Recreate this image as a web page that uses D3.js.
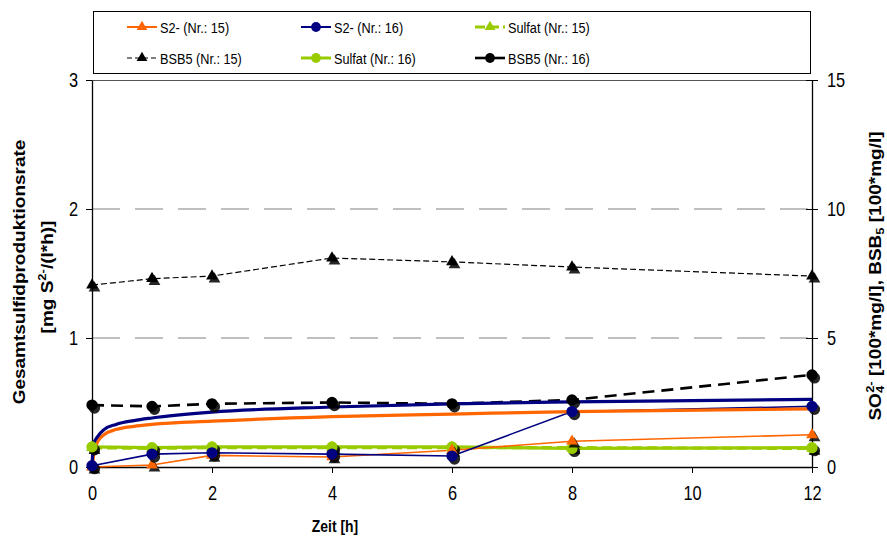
<!DOCTYPE html>
<html><head><meta charset="utf-8">
<script src="https://cdn.jsdelivr.net/npm/d3@7"></script>
<style>body{margin:0;background:#fff}svg{display:block;font-family:"Liberation Sans",Arial,sans-serif}</style>
</head><body><svg id="c" width="887" height="538"></svg>
<script>
const hours = [0, 1, 2, 4, 6, 8, 12];
const s2_15 = [0, 0.015, 0.09, 0.078, 0.13, 0.2, 0.25];
const s2_16 = [0.01, 0.1, 0.11, 0.1, 0.085, 0.43, 0.47];
const sulfat_15 = [0.75, 0.72, 0.75, 0.75, 0.75, 0.75, 0.72];
const sulfat_16 = [0.78, 0.75, 0.78, 0.78, 0.78, 0.72, 0.75];
const bsb_15 = [7.05, 7.3, 7.4, 8.1, 7.95, 7.75, 7.4];
const bsb_16 = [2.4, 2.35, 2.45, 2.5, 2.45, 2.6, 3.57];
const trendX = [0, 0.01, 0.03, 0.1, 0.2, 0.4, 0.7, 1, 2, 4, 6, 8, 12];
const trend_15 = [0, 0.03, 0.1, 0.2, 0.25, 0.29, 0.315, 0.33, 0.355, 0.39, 0.41, 0.43, 0.45];
const trend_16 = [0, 0.1, 0.18, 0.24, 0.29, 0.33, 0.36, 0.38, 0.425, 0.465, 0.49, 0.505, 0.525];
const xTicks = [0, 2, 4, 6, 8, 10, 12];
const leftTicks = [0, 1, 2, 3];
const rightTicks = [0, 5, 10, 15];
const gridTicks = [1, 2];

const ORANGE = "#FF6600", NAVY = "#000080", GREEN = "#99CC00", BLACK = "#000";
const SX = 0.82; // horizontal squeeze of glyphs in the reference
const svg = d3.select("#c");
const L = 92, R = 812, T = 80, B = 467;
const x = d3.scaleLinear().domain([0, 12]).range([L, R]);
const yL = d3.scaleLinear().domain([0, 3]).range([B, T]);
const yR = d3.scaleLinear().domain([0, 15]).range([B, T]);

// grid
svg.append("g").selectAll("line").data(gridTicks).join("line")
  .attr("x1", L).attr("x2", R).attr("y1", d => yL(d)).attr("y2", d => yL(d))
  .attr("stroke", "#808080").attr("stroke-width", 1).attr("stroke-dasharray", "28,15");
svg.append("line").attr("x1", L).attr("x2", R).attr("y1", T + 0.5).attr("y2", T + 0.5)
  .attr("stroke", "#555").attr("stroke-width", 1);

// axes
const fs = "20px";
const ax = svg.append("g").attr("transform", `translate(0,${B})`)
  .call(d3.axisBottom(x).tickValues(xTicks).tickSize(6).tickSizeOuter(0).tickPadding(13).tickFormat(d3.format("d")));
const al = svg.append("g").attr("transform", `translate(${L},0)`)
  .call(d3.axisLeft(yL).tickValues(leftTicks).tickSize(6).tickSizeOuter(0).tickPadding(8).tickFormat(d3.format("d")));
const ar = svg.append("g").attr("transform", `translate(${R},0)`)
  .call(d3.axisRight(yR).tickValues(rightTicks).tickSize(6).tickSizeOuter(0).tickPadding(9).tickFormat(d3.format("d")));
[ax, al, ar].forEach(g => {
  g.select(".domain").attr("stroke", "#000").attr("stroke-width", 1.3);
  g.selectAll(".tick line").attr("stroke", "#000");
  g.selectAll(".tick text").attr("font-size", fs).attr("fill", "#000").attr("font-family", '"Liberation Sans",Arial,sans-serif')
    .each(function () {
      const t = d3.select(this); const xv = +t.attr("x") || 0;
      t.attr("x", xv / SX).attr("transform", `scale(${SX},1)`);
    });
});
ar.selectAll(".tick line").attr("x1", -6);

const series = [
  {vals: sulfat_15, scale: yR, color: GREEN, w: 3.2, dash: "10,5", marker: "tri"},
  {vals: sulfat_16, scale: yR, color: GREEN, w: 3.2, dash: null, marker: "circ"},
  {vals: bsb_15, scale: yR, color: BLACK, w: 1.2, dash: "6,3", marker: "tri"},
  {vals: bsb_16, scale: yR, color: BLACK, w: 2.6, dash: "12,7", marker: "circ"},
  {vals: s2_15, scale: yL, color: ORANGE, w: 1.6, dash: null, marker: "tri"},
  {vals: s2_16, scale: yL, color: NAVY, w: 1.6, dash: null, marker: "circ"},
];
const triSym = d3.symbol().type(d3.symbolTriangle).size(60);
const circSym = d3.symbol().type(d3.symbolCircle).size(100);

function drawMarkers(g, s, shadow) {
  g.selectAll(null).data(s.vals).join("path")
    .attr("d", s.marker === "tri" ? triSym() : circSym())
    .attr("transform", (d, i) => `translate(${x(hours[i]) + (shadow ? 2.5 : 0)},${s.scale(d) + (shadow ? 3 : 0)})`)
    .attr("fill", shadow ? "#000" : s.color).attr("opacity", shadow ? 0.85 : 1);
}

const lg = svg.append("g");
series.forEach(s => {
  lg.append("path").attr("d", d3.line().x((d, i) => x(hours[i])).y(d => s.scale(d))(s.vals))
    .attr("fill", "none").attr("stroke", s.color).attr("stroke-width", s.w)
    .attr("stroke-dasharray", s.dash);
});
// trend lines
const curveL = ys => d3.line().curve(d3.curveMonotoneX).x((d, i) => x(trendX[i])).y(d => yL(d))(ys);
svg.append("path").attr("d", curveL(trend_15)).attr("fill", "none").attr("stroke", ORANGE).attr("stroke-width", 3.2);
svg.append("path").attr("d", curveL(trend_16)).attr("fill", "none").attr("stroke", NAVY).attr("stroke-width", 3.2);

series.forEach(s => { const g = svg.append("g"); drawMarkers(g, s, true); drawMarkers(g, s, false); });

// legend
svg.append("rect").attr("x", 93.5).attr("y", 11.5).attr("width", 717).attr("height", 62)
  .attr("fill", "#fff").attr("stroke", "#000").attr("stroke-width", 1);
const legendItems = [
  {label: "S2- (Nr.: 15)", color: ORANGE, w: 2, dash: null, marker: "tri", col: 0, row: 0},
  {label: "S2- (Nr.: 16)", color: NAVY, w: 2, dash: null, marker: "circ", col: 1, row: 0},
  {label: "Sulfat (Nr.: 15)", color: GREEN, w: 3, dash: "10,4", marker: "tri", col: 2, row: 0},
  {label: "BSB5 (Nr.: 15)", color: BLACK, w: 1.2, dash: "5,3", marker: "tri", col: 0, row: 1},
  {label: "Sulfat (Nr.: 16)", color: GREEN, w: 3, dash: null, marker: "circ", col: 1, row: 1},
  {label: "BSB5 (Nr.: 16)", color: BLACK, w: 2.6, dash: null, marker: "circ", col: 2, row: 1},
];
const colX = [127, 301, 475], rowY = [27, 58];
legendItems.forEach(it => {
  const g = svg.append("g").attr("transform", `translate(${colX[it.col]},${rowY[it.row]})`);
  g.append("line").attr("x1", 0).attr("x2", 30).attr("stroke", it.color).attr("stroke-width", it.w).attr("stroke-dasharray", it.dash);
  g.append("path").attr("d", it.marker === "tri" ? d3.symbol().type(d3.symbolTriangle).size(50)() : d3.symbol().type(d3.symbolCircle).size(75)())
    .attr("transform", "translate(15,0)").attr("fill", it.color);
  g.append("text").attr("transform", `translate(33,5.5) scale(${SX},1)`).attr("font-size", "15.5px").text(it.label);
});

// axis titles
svg.append("text").attr("transform", `translate(335,532) scale(${SX},1)`).attr("text-anchor", "middle")
  .attr("font-size", "17px").attr("font-weight", "bold").text("Zeit [h]");
svg.append("text").attr("transform", `translate(25,272) scale(${SX},1) rotate(-90)`).attr("text-anchor", "middle")
  .attr("font-size", "19px").attr("font-weight", "bold").text("Gesamtsulfidproduktionsrate");
const t2 = svg.append("text").attr("transform", `translate(53,277) scale(${SX},1) rotate(-90)`).attr("text-anchor", "middle")
  .attr("font-size", "19px").attr("font-weight", "bold");
t2.append("tspan").text("[mg S");
t2.append("tspan").attr("font-size", "13px").attr("dy", -8).text("2-");
t2.append("tspan").attr("dy", 8).text("/(l*h)]");
const t3 = svg.append("text").attr("transform", `translate(881,276) scale(${SX},1) rotate(-90)`).attr("text-anchor", "middle")
  .attr("font-size", "19px").attr("font-weight", "bold");
t3.append("tspan").text("SO");
t3.append("tspan").attr("font-size", "13px").attr("dy", 4).text("4");
t3.append("tspan").attr("font-size", "13px").attr("dy", -13).attr("dx", -7).text("2-");
t3.append("tspan").attr("dy", 9).text(" [100*mg/l], BSB");
t3.append("tspan").attr("font-size", "13px").attr("dy", 4).text("5");
t3.append("tspan").attr("dy", -4).text(" [100*mg/l]");
</script></body></html>
